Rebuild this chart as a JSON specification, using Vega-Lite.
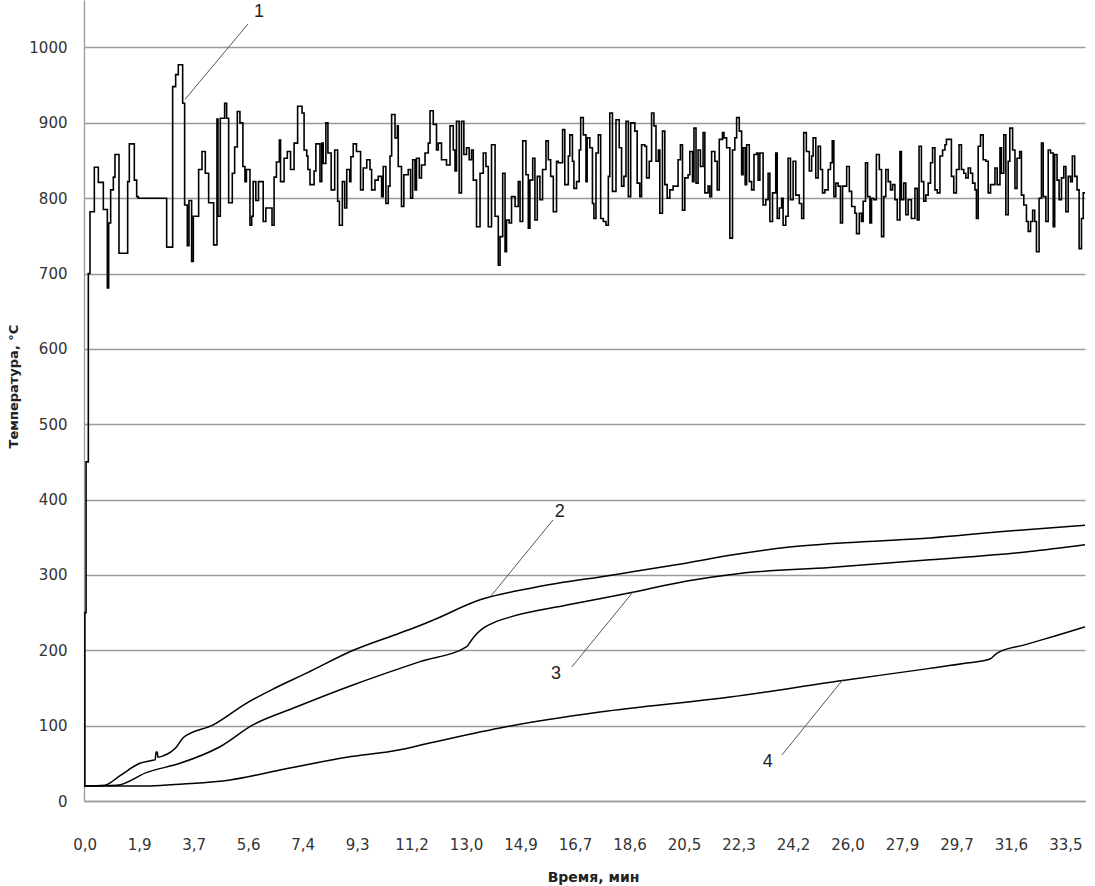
{
  "$schema": "https://vega.github.io/schema/vega-lite/v6.json",
  "width": 1001,
  "height": 801,
  "autosize": {"type": "none"},
  "padding": {"left": 84, "top": 0, "right": 10, "bottom": 85},
  "background": "white",
  "config": {"view": {"stroke": null}, "axis": {"labelFont": "DejaVu Sans", "titleFont": "DejaVu Sans"}},
  "datasets": {
    "line1": [
      {"t":0,"v":20},{"t":0.03,"v":250},{"t":0.07,"v":450},{"t":0.147,"v":700},{"t":0.204,"v":782},{"t":0.351,"v":841},{"t":0.487,"v":821},{"t":0.657,"v":785},{"t":0.793,"v":681},{"t":0.838,"v":767},{"t":0.906,"v":811},{"t":0.997,"v":828},{"t":1.053,"v":858},{"t":1.189,"v":727},{"t":1.484,"v":822},{"t":1.54,"v":872},{"t":1.71,"v":824},{"t":1.79,"v":802},{"t":1.846,"v":800},{"t":2.809,"v":735},{"t":3.013,"v":948},{"t":3.115,"v":964},{"t":3.205,"v":977},{"t":3.353,"v":926},{"t":3.42,"v":791},{"t":3.511,"v":737},{"t":3.568,"v":797},{"t":3.658,"v":716},{"t":3.715,"v":776},{"t":3.896,"v":838},{"t":4.01,"v":862},{"t":4.123,"v":833},{"t":4.236,"v":794},{"t":4.406,"v":738},{"t":4.519,"v":905},{"t":4.553,"v":776},{"t":4.632,"v":906},{"t":4.78,"v":926},{"t":4.848,"v":906},{"t":4.916,"v":794},{"t":5.04,"v":833},{"t":5.12,"v":868},{"t":5.21,"v":915},{"t":5.3,"v":900},{"t":5.4,"v":842},{"t":5.47,"v":822},{"t":5.52,"v":838},{"t":5.64,"v":764},{"t":5.7,"v":776},{"t":5.75,"v":822},{"t":5.84,"v":797},{"t":5.93,"v":822},{"t":6.09,"v":769},{"t":6.18,"v":787},{"t":6.39,"v":764},{"t":6.46,"v":828},{"t":6.54,"v":848},{"t":6.64,"v":877},{"t":6.68,"v":822},{"t":6.8,"v":853},{"t":6.91,"v":862},{"t":7.02,"v":838},{"t":7.14,"v":873},{"t":7.26,"v":922},{"t":7.41,"v":913},{"t":7.48,"v":864},{"t":7.57,"v":856},{"t":7.61,"v":838},{"t":7.68,"v":818},{"t":7.82,"v":836},{"t":7.88,"v":872},{"t":8.02,"v":822},{"t":8.08,"v":873},{"t":8.13,"v":846},{"t":8.22,"v":900},{"t":8.29,"v":860},{"t":8.4,"v":811},{"t":8.52,"v":864},{"t":8.62,"v":796},{"t":8.68,"v":764},{"t":8.78,"v":822},{"t":8.86,"v":787},{"t":8.93,"v":838},{"t":9.03,"v":822},{"t":9.07,"v":855},{"t":9.15,"v":872},{"t":9.26,"v":862},{"t":9.4,"v":811},{"t":9.49,"v":840},
      {"t":9.61,"v":851},{"t":9.72,"v":838},{"t":9.775,"v":811},{"t":9.89,"v":824},{"t":10.0,"v":829},{"t":10.115,"v":802},{"t":10.17,"v":842},{"t":10.26,"v":793},{"t":10.34,"v":816},{"t":10.4,"v":856},{"t":10.455,"v":911},{"t":10.57,"v":880},{"t":10.65,"v":896},{"t":10.68,"v":842},{"t":10.79,"v":789},{"t":10.87,"v":831},{"t":11.02,"v":838},{"t":11.1,"v":800},{"t":11.17,"v":851},{"t":11.25,"v":811},{"t":11.3,"v":853},{"t":11.395,"v":827},{"t":11.47,"v":844},{"t":11.59,"v":860},{"t":11.7,"v":873},{"t":11.76,"v":916},{"t":11.87,"v":898},{"t":11.98,"v":864},{"t":12.04,"v":873},{"t":12.15,"v":851},{"t":12.32,"v":844},{"t":12.44,"v":896},{"t":12.55,"v":864},{"t":12.61,"v":836},{"t":12.66,"v":902},{"t":12.75,"v":807},{"t":12.83,"v":902},{"t":12.91,"v":858},{"t":13.0,"v":867},{"t":13.09,"v":851},{"t":13.17,"v":864},{"t":13.23,"v":824},{"t":13.34,"v":762},{"t":13.46,"v":833},{"t":13.57,"v":860},{"t":13.66,"v":842},{"t":13.74,"v":762},{"t":13.85,"v":871},{"t":13.97,"v":776},{"t":14.08,"v":711},{"t":14.14,"v":749},{"t":14.23,"v":833},{"t":14.31,"v":729},{"t":14.36,"v":771},{"t":14.45,"v":767},{"t":14.53,"v":802},{"t":14.65,"v":789},{"t":14.76,"v":822},{"t":14.82,"v":769},{"t":14.91,"v":876},{"t":15.02,"v":831},{"t":15.1,"v":760},{"t":15.155,"v":824},{"t":15.25,"v":853},{"t":15.325,"v":771},{"t":15.405,"v":829},{"t":15.495,"v":798},{"t":15.585,"v":838},{"t":15.7,"v":876},{"t":15.78,"v":851},{"t":15.86,"v":829},{"t":15.95,"v":782},{"t":16.06,"v":849},
      {"t":16.12,"v":847},{"t":16.265,"v":891},{"t":16.34,"v":818},{"t":16.46,"v":856},{"t":16.51,"v":884},{"t":16.6,"v":849},{"t":16.65,"v":813},{"t":16.74,"v":822},{"t":16.83,"v":864},{"t":16.88,"v":907},{"t":16.97,"v":884},{"t":17.06,"v":822},{"t":17.1,"v":880},{"t":17.19,"v":867},{"t":17.28,"v":793},{"t":17.33,"v":773},{"t":17.4,"v":860},{"t":17.48,"v":884},{"t":17.56,"v":773},{"t":17.65,"v":769},{"t":17.74,"v":764},{"t":17.82,"v":829},{"t":17.87,"v":913},{"t":17.96,"v":809},{"t":18.08,"v":904},{"t":18.19,"v":867},{"t":18.27,"v":816},{"t":18.35,"v":829},{"t":18.42,"v":902},{"t":18.5,"v":802},{"t":18.58,"v":900},{"t":18.72,"v":889},{"t":18.8,"v":820},{"t":18.89,"v":802},{"t":18.95,"v":871},{"t":19.06,"v":869},{"t":19.12,"v":827},{"t":19.21,"v":849},{"t":19.29,"v":913},{"t":19.37,"v":896},{"t":19.44,"v":849},{"t":19.52,"v":864},{"t":19.57,"v":780},{"t":19.66,"v":889},{"t":19.74,"v":818},{"t":19.82,"v":800},{"t":19.91,"v":811},{"t":20.02,"v":816},{"t":20.19,"v":851},{"t":20.27,"v":871},{"t":20.34,"v":784},{"t":20.42,"v":827},{"t":20.53,"v":831},{"t":20.59,"v":862},{"t":20.68,"v":822},{"t":20.73,"v":893},{"t":20.8,"v":820},{"t":20.87,"v":864},{"t":20.95,"v":842},{"t":21.04,"v":887},{"t":21.1,"v":807},{"t":21.21,"v":816},{"t":21.27,"v":802},{"t":21.33,"v":862},{"t":21.44,"v":849},{"t":21.52,"v":811},{"t":21.59,"v":878},{"t":21.7,"v":887},{"t":21.75,"v":880},{"t":21.84,"v":867},{"t":21.95,"v":747},{"t":22.04,"v":864},{"t":22.12,"v":880},{"t":22.18,"v":907},{"t":22.27,"v":889},{"t":22.35,"v":831},{"t":22.4,"v":867},{"t":22.47,"v":818},{"t":22.52,"v":871},{"t":22.61,"v":822},{"t":22.69,"v":811},{"t":22.77,"v":858},{"t":22.86,"v":860},{"t":22.91,"v":824},{"t":22.97,"v":860},{"t":23.08,"v":791},{"t":23.17,"v":798},{"t":23.25,"v":833},{"t":23.31,"v":769},{"t":23.4,"v":807},{"t":23.51,"v":860},{"t":23.56,"v":773},{"t":23.63,"v":787},{"t":23.71,"v":800},{"t":23.76,"v":764},{"t":23.85,"v":776},{"t":23.93,"v":853},{"t":24.01,"v":798},{"t":24.1,"v":849},{"t":24.19,"v":804},{"t":24.31,"v":793},{"t":24.39,"v":773},{"t":24.46,"v":887},{"t":24.55,"v":862},{"t":24.65,"v":836},
      {"t":24.73,"v":856},{"t":24.78,"v":880},{"t":24.87,"v":827},{"t":24.95,"v":869},{"t":25.03,"v":838},{"t":25.1,"v":807},{"t":25.18,"v":811},{"t":25.29,"v":838},{"t":25.37,"v":847},{"t":25.43,"v":876},{"t":25.485,"v":802},{"t":25.55,"v":820},{"t":25.63,"v":816},{"t":25.71,"v":767},{"t":25.78,"v":816},{"t":25.92,"v":842},{"t":26.01,"v":809},{"t":26.09,"v":789},{"t":26.2,"v":780},{"t":26.255,"v":753},{"t":26.35,"v":780},{"t":26.425,"v":769},{"t":26.48,"v":796},{"t":26.56,"v":847},{"t":26.63,"v":802},{"t":26.71,"v":767},{"t":26.765,"v":800},{"t":26.84,"v":798},{"t":26.93,"v":858},{"t":27.03,"v":838},{"t":27.105,"v":749},{"t":27.18,"v":802},{"t":27.25,"v":838},{"t":27.33,"v":822},{"t":27.41,"v":811},{"t":27.48,"v":818},{"t":27.56,"v":798},{"t":27.64,"v":771},{"t":27.73,"v":862},{"t":27.78,"v":798},{"t":27.86,"v":820},{"t":27.93,"v":778},{"t":28.01,"v":798},{"t":28.12,"v":773},{"t":28.24,"v":813},{"t":28.32,"v":771},{"t":28.38,"v":869},{"t":28.46,"v":822},{"t":28.54,"v":796},{"t":28.61,"v":804},{"t":28.69,"v":820},{"t":28.77,"v":847},{"t":28.84,"v":867},{"t":28.92,"v":811},{"t":29.0,"v":807},{"t":29.09,"v":856},{"t":29.18,"v":864},{"t":29.26,"v":871},{"t":29.31,"v":878},{"t":29.48,"v":829},{"t":29.56,"v":807},{"t":29.65,"v":838},{"t":29.74,"v":871},{"t":29.82,"v":838},{"t":29.9,"v":833},{"t":29.97,"v":827},{"t":30.05,"v":840},{"t":30.13,"v":833},{"t":30.2,"v":820},{"t":30.28,"v":811},{"t":30.33,"v":773},{"t":30.39,"v":869},{"t":30.47,"v":884},{"t":30.56,"v":851},{"t":30.65,"v":849},{"t":30.73,"v":807},{"t":30.81,"v":818},{"t":30.96,"v":840},{"t":31.035,"v":818},{"t":31.13,"v":867},{"t":31.18,"v":833},{"t":31.26,"v":884},{"t":31.33,"v":778},{"t":31.41,"v":849},{"t":31.465,"v":893},{"t":31.56,"v":864},{"t":31.64,"v":813},{"t":31.71,"v":853},{"t":31.8,"v":862},{"t":31.86,"v":804},{"t":31.94,"v":791},{"t":32.03,"v":769},{"t":32.09,"v":756},{"t":32.17,"v":769},{"t":32.24,"v":784},{"t":32.31,"v":769},{"t":32.37,"v":729},{"t":32.46,"v":800},{"t":32.54,"v":873},{"t":32.6,"v":802},{"t":32.69,"v":769},{"t":32.77,"v":864},{"t":32.85,"v":860},{"t":32.94,"v":762},{"t":32.99,"v":858},{"t":33.07,"v":824},{"t":33.14,"v":798},{"t":33.22,"v":827},{"t":33.3,"v":842},{"t":33.37,"v":782},{"t":33.45,"v":829},{"t":33.53,"v":822},{"t":33.59,"v":856},{"t":33.67,"v":829},{"t":33.75,"v":811},{"t":33.82,"v":733},{"t":33.9,"v":773},{"t":33.96,"v":807},{"t":34.02,"v":807}
    ],
    "curves": [
      {"s":"2","t":0,"v":20},{"s":"2","t":0.71,"v":21},{"s":"2","t":1.2,"v":33},{"s":"2","t":1.9,"v":50},{"s":"2","t":2.34,"v":54},{"s":"2","t":2.42,"v":55},{"s":"2","t":2.45,"v":65},{"s":"2","t":2.49,"v":65},{"s":"2","t":2.51,"v":58},{"s":"2","t":2.7,"v":60},{"s":"2","t":3.15,"v":72},{"s":"2","t":3.37,"v":84},{"s":"2","t":4.39,"v":101},{"s":"2","t":5.53,"v":130},{"s":"2","t":6.5,"v":150},{"s":"2","t":7.58,"v":170},{"s":"2","t":9.15,"v":200},{"s":"2","t":10.74,"v":223},{"s":"2","t":11.42,"v":233},{"s":"2","t":11.86,"v":240},{"s":"2","t":13.46,"v":267},{"s":"2","t":15.26,"v":283},{"s":"2","t":17.98,"v":300},{"s":"2","t":20.5,"v":316},{"s":"2","t":21.95,"v":326},{"s":"2","t":23.99,"v":337},{"s":"2","t":26.47,"v":344},{"s":"2","t":28.75,"v":349},{"s":"2","t":31.02,"v":357},{"s":"2","t":34.02,"v":366},
      {"s":"3","t":0,"v":20},{"s":"3","t":1.12,"v":21},{"s":"3","t":2.14,"v":38},{"s":"3","t":3.26,"v":50},{"s":"3","t":4.62,"v":72},{"s":"3","t":5.74,"v":101},{"s":"3","t":7.1,"v":123},{"s":"3","t":9.14,"v":154},{"s":"3","t":10.74,"v":176},{"s":"3","t":11.42,"v":185},{"s":"3","t":13.01,"v":205},{"s":"3","t":13.18,"v":214},{"s":"3","t":13.35,"v":222},{"s":"3","t":13.56,"v":229},{"s":"3","t":14.0,"v":238},{"s":"3","t":14.47,"v":244},{"s":"3","t":16.41,"v":260},{"s":"3","t":18.65,"v":277},{"s":"3","t":20.5,"v":292},{"s":"3","t":22.29,"v":302},{"s":"3","t":25.35,"v":310},{"s":"3","t":28.75,"v":320},{"s":"3","t":32.14,"v":331},{"s":"3","t":34.02,"v":340},
      {"s":"4","t":0,"v":20},{"s":"4","t":2.24,"v":20},{"s":"4","t":3.37,"v":22.6},{"s":"4","t":4.96,"v":28},{"s":"4","t":6.66,"v":41},{"s":"4","t":8.93,"v":58},{"s":"4","t":10.74,"v":68},{"s":"4","t":11.42,"v":74},{"s":"4","t":14.14,"v":97},{"s":"4","t":17.53,"v":118},{"s":"4","t":21.95,"v":138},{"s":"4","t":25.79,"v":160},{"s":"4","t":28.75,"v":176},{"s":"4","t":30.0,"v":183},{"s":"4","t":30.79,"v":188.5},{"s":"4","t":31.02,"v":196},{"s":"4","t":32.0,"v":207.5},{"s":"4","t":33.0,"v":219},{"s":"4","t":34.02,"v":231}
    ],
    "leaders": [
      {"t":5.57,"v":1031,"t2":3.43,"v2":931},
      {"t":15.94,"v":373,"t2":13.83,"v2":272},
      {"t":16.58,"v":178,"t2":18.65,"v2":277},
      {"t":23.72,"v":61,"t2":25.79,"v2":161}
    ],
    "labels": [
      {"t":5.95,"v":1047,"label":"1"},
      {"t":16.17,"v":384,"label":"2"},
      {"t":16.04,"v":169,"label":"3"},
      {"t":23.24,"v":52,"label":"4"}
    ]
  },
  "layer": [
    {
      "data": {"name": "line1"},
      "mark": {"type": "line", "interpolate": "step-after", "color": "#000000", "strokeWidth": 1.6},
      "encoding": {
        "x": {
          "field": "t", "type": "quantitative",
          "scale": {"domain": [0, 34.02], "nice": false, "zero": false},
          "axis": {
            "title": "Время, мин",
            "values": [0.02,1.872,3.724,5.576,7.428,9.28,11.132,12.984,14.836,16.688,18.54,20.392,22.244,24.096,25.948,27.8,29.652,31.504,33.356],
            "labelExpr": "['0,0','1,9','3,7','5,6','7,4','9,3','11,2','13,0','14,9','16,7','18,6','20,5','22,3','24,2','26,0','27,9','29,7','31,6','33,5'][round((datum.value-0.02)/1.852)]",
            "grid": false, "ticks": false, "domainColor": "#9a9a9a", "domainWidth": 1.3,
            "labelFontSize": 15, "labelColor": "#333333", "labelPadding": 36, "labelFlush": false, "labelOverlap": false,
            "titleFontSize": 14, "titleFontWeight": "bold", "titleColor": "#222222",
            "titleX": 509, "titleY": 80, "titleBaseline": "alphabetic", "titleAlign": "center"
          }
        },
        "y": {
          "field": "v", "type": "quantitative",
          "scale": {"domain": [0, 1063], "nice": false, "zero": true},
          "axis": {
            "title": "Температура, °С",
            "values": [0,100,200,300,400,500,600,700,800,900,1000],
            "format": "d",
            "grid": true, "gridColor": "#9a9a9a", "gridWidth": 1.3,
            "ticks": false, "domainColor": "#9a9a9a", "domainWidth": 1.3,
            "labelFontSize": 15, "labelColor": "#333333", "labelPadding": 17,
            "titleFontSize": 13, "titleFontWeight": "bold", "titleColor": "#222222",
            "titleX": -71, "titleY": 386, "titleAngle": -90, "titleBaseline": "middle", "titleAlign": "center"
          }
        }
      }
    },
    {
      "data": {"name": "curves"},
      "mark": {"type": "line", "interpolate": "monotone", "color": "#000000", "strokeWidth": 1.5},
      "encoding": {
        "x": {"field": "t", "type": "quantitative"},
        "y": {"field": "v", "type": "quantitative"},
        "detail": {"field": "s", "type": "nominal"}
      }
    },
    {
      "data": {"name": "leaders"},
      "mark": {"type": "rule", "color": "#555555", "strokeWidth": 1},
      "encoding": {
        "x": {"field": "t", "type": "quantitative"},
        "y": {"field": "v", "type": "quantitative"},
        "x2": {"field": "t2"},
        "y2": {"field": "v2"}
      }
    },
    {
      "data": {"name": "labels"},
      "mark": {"type": "text", "font": "Liberation Sans", "fontSize": 18, "color": "#222222", "align": "center", "baseline": "middle"},
      "encoding": {
        "x": {"field": "t", "type": "quantitative"},
        "y": {"field": "v", "type": "quantitative"},
        "text": {"field": "label"}
      }
    },
    {
      "mark": {"type": "rule", "color": "#9a9a9a", "strokeWidth": 1.3},
      "encoding": {"x": {"datum": 34.02}}
    }
  ]
}
